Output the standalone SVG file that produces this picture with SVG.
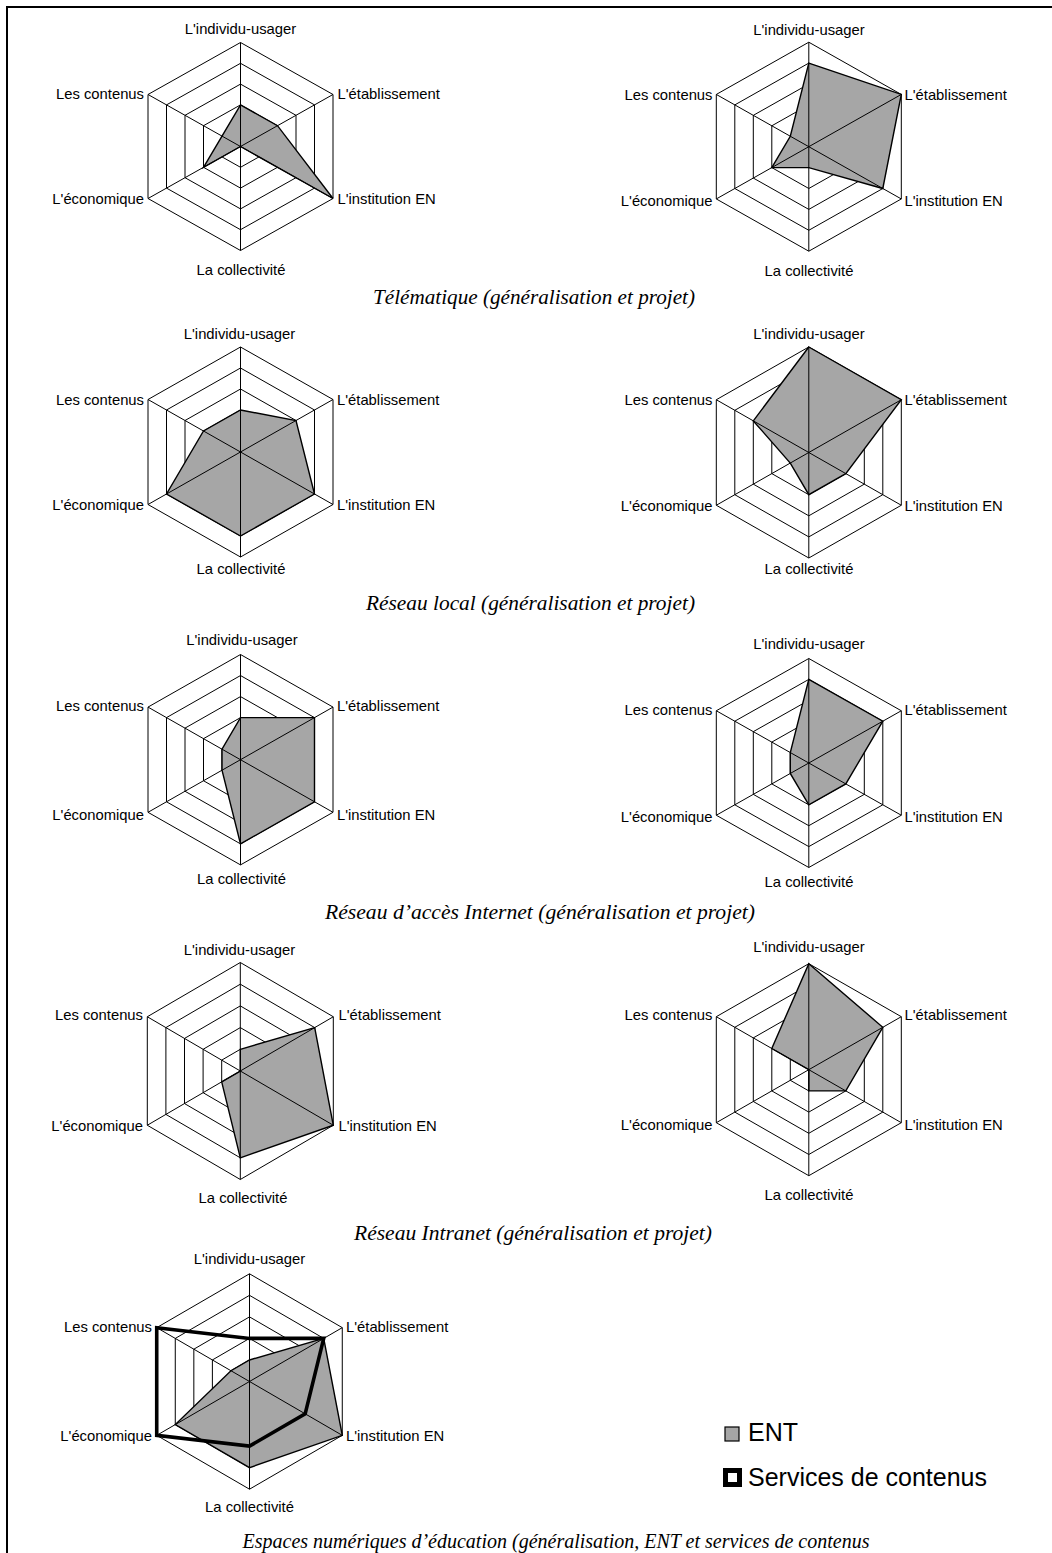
<svg xmlns="http://www.w3.org/2000/svg" xmlns:xlink="http://www.w3.org/1999/xlink" width="1052" height="1553" viewBox="0 0 1052 1553">
<style>
.ring{fill:none;stroke:#000;stroke-width:1;vector-effect:non-scaling-stroke}
.axis{fill:none;stroke:#000;stroke-width:1;vector-effect:non-scaling-stroke}
.ent{fill:#a6a6a6;stroke:#000;stroke-width:1.4;stroke-linejoin:miter;vector-effect:non-scaling-stroke}
.svc{fill:none;stroke:#000;stroke-width:3.6;stroke-linejoin:miter;vector-effect:non-scaling-stroke}
.lbl{font-family:"Liberation Sans",Arial,sans-serif;font-size:14.8px;fill:#000}
.c{text-anchor:middle}
.e{text-anchor:end}
.cap{font-family:"Liberation Serif","Times New Roman",serif;font-style:italic;font-size:21px;fill:#000;text-anchor:middle}
.leg{font-family:"Liberation Sans",Arial,sans-serif;font-size:25px;fill:#000}
.frame{fill:none;stroke:#000;stroke-width:2}
</style>
<defs>
<g id="rings">
<polygon class="ring" points="0,-21 18.5,-10.5 18.5,10.5 0,21 -18.5,10.5 -18.5,-10.5"/>
<polygon class="ring" points="0,-42 37,-21 37,21 0,42 -37,21 -37,-21"/>
<polygon class="ring" points="0,-63 55.5,-31.5 55.5,31.5 0,63 -55.5,31.5 -55.5,-31.5"/>
<polygon class="ring" points="0,-84 74,-42 74,42 0,84 -74,42 -74,-42"/>
<polygon class="ring" points="0,-105 92.5,-52.5 92.5,52.5 0,105 -92.5,52.5 -92.5,-52.5"/>
</g>
<path id="axes" class="axis" d="M0,-105V105M92.5,-52.5L-92.5,52.5M92.5,52.5L-92.5,-52.5"/>
</defs>
<path class="frame" d="M7,1553V7H1052"/>

<g id="chart-telematique-generalisation">
<g transform="translate(240.5,146.5) scale(1,0.9905)">
<use href="#rings"/>
<polygon class="ent" points="0,-42 37,-21 92.5,52.5 0,0 -37,21 -18.5,-10.5"/>
<use href="#axes"/>
</g>
<text class="lbl c" x="240.5" y="34">L'individu-usager</text>
<text class="lbl" x="337.5" y="99">L'établissement</text>
<text class="lbl" x="337.5" y="204">L'institution EN</text>
<text class="lbl c" x="241" y="275">La collectivité</text>
<text class="lbl e" x="144" y="99">Les contenus</text>
<text class="lbl e" x="144" y="204">L'économique</text>
</g>

<g id="chart-telematique-projet">
<g transform="translate(808.8,146.7) scale(1,0.9952)">
<use href="#rings"/>
<polygon class="ent" points="0,-84 92.5,-52.5 74,42 0,21 -37,21 -18.5,-10.5"/>
<use href="#axes"/>
</g>
<text class="lbl c" x="809" y="34.5">L'individu-usager</text>
<text class="lbl" x="904.5" y="99.5">L'établissement</text>
<text class="lbl" x="904.5" y="205.5">L'institution EN</text>
<text class="lbl c" x="809" y="275.5">La collectivité</text>
<text class="lbl e" x="712.5" y="99.5">Les contenus</text>
<text class="lbl e" x="712.5" y="205.5">L'économique</text>
</g>
<text id="caption-1" class="cap" x="534" y="304" textLength="322" lengthAdjust="spacingAndGlyphs">Télématique (généralisation et projet)</text>

<g id="chart-reseau-local-generalisation">
<g transform="translate(240.5,452) scale(1,1)">
<use href="#rings"/>
<polygon class="ent" points="0,-42 55.5,-31.5 74,42 0,84 -74,42 -37,-21"/>
<use href="#axes"/>
</g>
<text class="lbl c" x="239.5" y="338.5">L'individu-usager</text>
<text class="lbl" x="337" y="404.5">L'établissement</text>
<text class="lbl" x="337" y="510">L'institution EN</text>
<text class="lbl c" x="241" y="573.5">La collectivité</text>
<text class="lbl e" x="144" y="404.5">Les contenus</text>
<text class="lbl e" x="144" y="510">L'économique</text>
</g>

<g id="chart-reseau-local-projet">
<g transform="translate(808.8,452.5) scale(1,1.0048)">
<use href="#rings"/>
<polygon class="ent" points="0,-105 92.5,-52.5 37,21 0,42 -18.5,10.5 -55.5,-31.5"/>
<use href="#axes"/>
</g>
<text class="lbl c" x="809" y="338.5">L'individu-usager</text>
<text class="lbl" x="904.5" y="404.5">L'établissement</text>
<text class="lbl" x="904.5" y="511">L'institution EN</text>
<text class="lbl c" x="809" y="573.5">La collectivité</text>
<text class="lbl e" x="712.5" y="404.5">Les contenus</text>
<text class="lbl e" x="712.5" y="511">L'économique</text>
</g>
<text id="caption-2" class="cap" x="530.5" y="610" textLength="329" lengthAdjust="spacingAndGlyphs">Réseau local (généralisation et projet)</text>

<g id="chart-acces-internet-generalisation">
<g transform="translate(240.5,759.7) scale(1,1.0019)">
<use href="#rings"/>
<polygon class="ent" points="0,-42 74,-42 74,42 0,84 -18.5,10.5 -18.5,-10.5"/>
<use href="#axes"/>
</g>
<text class="lbl c" x="242" y="645">L'individu-usager</text>
<text class="lbl" x="337" y="711">L'établissement</text>
<text class="lbl" x="337" y="820">L'institution EN</text>
<text class="lbl c" x="241.5" y="883.5">La collectivité</text>
<text class="lbl e" x="144" y="711">Les contenus</text>
<text class="lbl e" x="144" y="820">L'économique</text>
</g>

<g id="chart-acces-internet-projet">
<g transform="translate(808.8,763) scale(1,0.9952)">
<use href="#rings"/>
<polygon class="ent" points="0,-84 74,-42 37,21 0,42 -18.5,10.5 -18.5,-10.5"/>
<use href="#axes"/>
</g>
<text class="lbl c" x="809" y="648.5">L'individu-usager</text>
<text class="lbl" x="904.5" y="714.5">L'établissement</text>
<text class="lbl" x="904.5" y="822">L'institution EN</text>
<text class="lbl c" x="809" y="887">La collectivité</text>
<text class="lbl e" x="712.5" y="714.5">Les contenus</text>
<text class="lbl e" x="712.5" y="822">L'économique</text>
</g>
<text id="caption-3" class="cap" x="540" y="919" textLength="430" lengthAdjust="spacingAndGlyphs">Réseau d’accès Internet (généralisation et projet)</text>

<g id="chart-intranet-generalisation">
<g transform="translate(240.3,1071) scale(1.0054,1.0333)">
<use href="#rings"/>
<polygon class="ent" points="0,-21 74,-42 92.5,52.5 0,84 -18.5,10.5 0,0"/>
<use href="#axes"/>
</g>
<text class="lbl c" x="239.5" y="955">L'individu-usager</text>
<text class="lbl" x="338.5" y="1020">L'établissement</text>
<text class="lbl" x="338.5" y="1131">L'institution EN</text>
<text class="lbl c" x="243" y="1203">La collectivité</text>
<text class="lbl e" x="143" y="1020">Les contenus</text>
<text class="lbl e" x="143" y="1131">L'économique</text>
</g>

<g id="chart-intranet-projet">
<g transform="translate(808.8,1069.7) scale(1,1.0095)">
<use href="#rings"/>
<polygon class="ent" points="0,-105 74,-42 37,21 0,21 0,0 -37,-21"/>
<use href="#axes"/>
</g>
<text class="lbl c" x="809" y="952">L'individu-usager</text>
<text class="lbl" x="904.5" y="1020">L'établissement</text>
<text class="lbl" x="904.5" y="1130">L'institution EN</text>
<text class="lbl c" x="809" y="1200">La collectivité</text>
<text class="lbl e" x="712.5" y="1020">Les contenus</text>
<text class="lbl e" x="712.5" y="1130">L'économique</text>
</g>
<text id="caption-4" class="cap" x="533" y="1240" textLength="358" lengthAdjust="spacingAndGlyphs">Réseau Intranet (généralisation et projet)</text>

<g id="chart-espaces-numeriques">
<g transform="translate(249.5,1381.5) scale(1.003,1.0257)">
<use href="#rings"/>
<polygon class="ent" points="0,-21 74,-42 92.5,52.5 0,84 -74,42 -18.5,-10.5"/>
<use href="#axes"/>
<polygon class="svc" points="0,-42 74,-42 55.5,31.5 0,63 -92.5,52.5 -92.5,-52.5"/>
</g>
<text class="lbl c" x="249.5" y="1264">L'individu-usager</text>
<text class="lbl" x="346" y="1332">L'établissement</text>
<text class="lbl" x="346" y="1440.5">L'institution EN</text>
<text class="lbl c" x="249.5" y="1512">La collectivité</text>
<text class="lbl e" x="152" y="1332">Les contenus</text>
<text class="lbl e" x="152" y="1440.5">L'économique</text>
</g>

<g id="legend">
<g id="legend-ent">
<rect x="725" y="1427" width="14" height="14" fill="#a6a6a6" stroke="#000" stroke-width="1.2"/>
<text class="leg" x="748" y="1441">ENT</text>
</g>
<g id="legend-services">
<rect x="725.5" y="1470.5" width="14" height="14" fill="#fff" stroke="#000" stroke-width="5"/>
<text class="leg" x="748" y="1486">Services de contenus</text>
</g>
</g>
<text id="caption-5" class="cap" x="556" y="1548" textLength="627" lengthAdjust="spacingAndGlyphs">Espaces numériques d’éducation (généralisation, ENT et services de contenus</text>
</svg>
